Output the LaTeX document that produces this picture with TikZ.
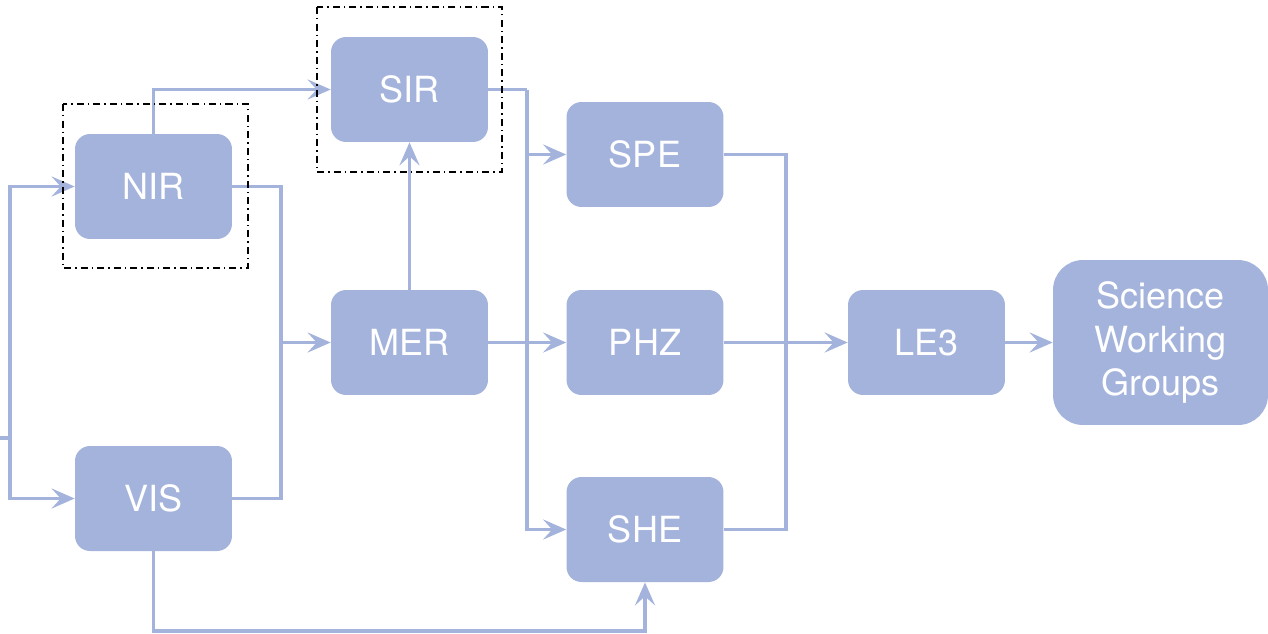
\documentclass[tikz,border=0pt]{standalone}
\usepackage{fontspec}
\setmainfont{TeX Gyre Heros}
\usetikzlibrary{arrows.meta}
\definecolor{pipe}{RGB}{164,179,220}
\tikzset{
  stage/.style={fill=pipe, draw=none, rounded corners=0.3cm, text=white,
    minimum width=3.14cm, minimum height=2.1cm, inner sep=0pt,
    font=\fontsize{20.5}{25}\selectfont},
  wire/.style={draw=pipe, line width=2pt, line join=miter},
  feed/.style={wire, -{Stealth[length=0.46cm, width=0.4cm, inset=0.18cm]}},
  groupbox/.style={draw=black, line width=1.2pt,
    dash pattern=on 4pt off 2.3pt on 0.8pt off 2.3pt},
}
\begin{document}
\begin{tikzpicture}[x=0.02cm, y=-0.02cm]
\useasboundingbox (0,0) rectangle (1268,633);

% processing stages
\node[stage] (nir) at (153.5,186.5) {NIR};
\node[stage] (vis) at (153.5,498.5) {VIS};
\node[stage] (sir) at (409.5,89.5) {SIR};
\node[stage] (mer) at (409.5,342.5) {MER};
\node[stage] (spe) at (645,154.5) {SPE};
\node[stage] (phz) at (645,342.5) {PHZ};
\node[stage] (she) at (645,529.5) {SHE};
\node[stage] (le3) at (926.5,342.5) {LE3};
\node[stage, minimum width=4.3cm, minimum height=3.3cm, rounded corners=0.6cm,
  align=center] (swg) at (1160.5,342.5) {Science\\Working\\Groups};

% junction points
\coordinate (in) at (0,438);
\coordinate (split) at (10,438);
\coordinate (merge) at (281,342.5);
\coordinate (sirout) at (527,89.5);
\coordinate (rtop) at (786,154.5);
\coordinate (rbot) at (786,529.5);
\coordinate (vislow) at (153.5,631);

% connectors
\draw[wire] (in) -- (split);
\draw[feed] (split) |- (nir.west);
\draw[feed] (split) |- (vis.west);
\draw[feed] (nir.north) |- (sir.west);
\draw[wire] (nir.east) -| (merge);
\draw[wire] (vis.east) -| (merge);
\draw[feed] (merge) -- (mer.west);
\draw[feed] (mer.north) -- (sir.south);
\draw[feed] (mer.east) -- (phz.west);
\draw[wire] (sir.east) -- (sirout);
\draw[feed] (sirout) |- (spe.west);
\draw[feed] (sirout) |- (she.west);
\draw[wire] (spe.east) -- (rtop) -- (rbot) -- (she.east);
\draw[feed] (phz.east) -- (le3.west);
\draw[feed] (le3.east) -- (swg.west);
\draw[feed] (vis.south) -- (vislow) -| (she.south);

% instrument groupings
\draw[groupbox] (63,104) rectangle (248,268);
\draw[groupbox] (317,7) rectangle (502,172);
\end{tikzpicture}
\end{document}
